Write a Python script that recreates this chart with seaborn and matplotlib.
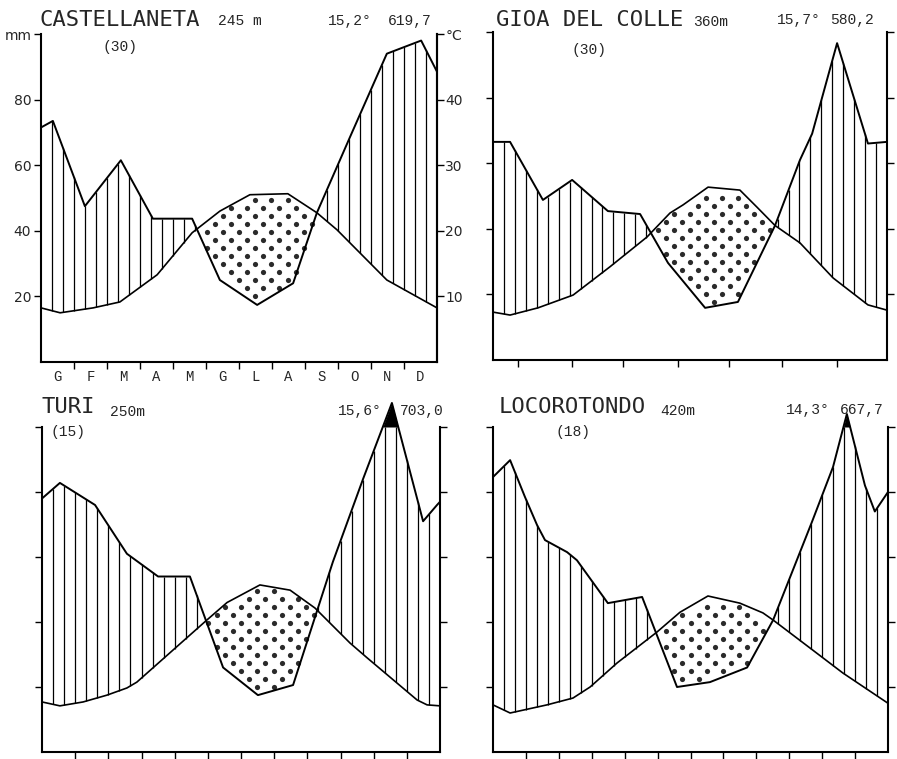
import numpy as np
import matplotlib
matplotlib.use("Agg")
import matplotlib.pyplot as plt
import seaborn as sns

# ---------------- data ----------------
stations = ["CASTELLANETA", "GIOA DEL COLLE", "TURI", "LOCOROTONDO"]
altitudes = ["245 m", "360m", "250m", "420m"]
years = ["(30)", "(30)", "(15)", "(18)"]
mean_temps = ["15,2°", "15,7°", "15,6°", "14,3°"]
annual_precip = ["619,7", "580,2", "703,0", "667,7"]
month_labels = ["G", "F", "M", "A", "M", "G", "L", "A", "S", "O", "N", "D"]
mm_ticks = [20, 40, 60, 80, 100]
mm_ticklabels = ["20", "40", "60", "80", "mm"]
c_ticks = [10, 20, 30, 40, 50]
c_ticklabels = ["10", "20", "30", "40", "°C"]

# Castellaneta
cas_p_month = [0.0, 0.36, 1.33, 2.42, 3.39, 4.58, 5.42, 6.55, 7.64, 8.36, 9.36, 10.48, 11.52, 12.0]
cas_p_mm = [71.5, 73.5, 47.5, 61.5, 43.7, 43.7, 25.0, 17.4, 24.0, 45.5, 68.5, 94.0, 98.0, 88.5]
cas_t_month = [0.0, 0.58, 1.58, 2.39, 3.52, 4.58, 5.42, 6.33, 7.48, 8.36, 8.97, 10.48, 12.0]
cas_t_c = [8.25, 7.5, 8.25, 9.15, 13.3, 19.7, 23.0, 25.5, 25.65, 22.75, 20.15, 12.5, 8.25]

# Gioia del Colle
gio_p_month = [0.0, 0.52, 1.52, 2.41, 3.5, 4.48, 5.33, 6.46, 7.46, 8.59, 9.35, 9.72, 10.48, 11.42, 12.0]
gio_p_mm = [66.5, 66.5, 48.8, 54.9, 45.4, 44.5, 29.6, 15.9, 17.7, 41.0, 61.0, 69.0, 96.6, 66.0, 66.5]
gio_t_month = [0.0, 0.52, 1.37, 2.44, 3.56, 4.69, 5.39, 5.79, 6.55, 7.52, 8.04, 8.59, 9.35, 10.36, 11.42, 12.0]
gio_t_c = [7.3, 6.85, 7.95, 9.9, 14.2, 18.75, 22.4, 23.65, 26.35, 25.9, 23.3, 20.5, 17.85, 12.5, 8.4, 7.6]
gio_xticks = [0.76, 2.41, 3.96, 5.63, 7.19, 8.8, 10.48]

# Turi
turi_p_month = [0.0, 0.54, 1.6, 2.56, 3.5, 4.46, 5.46, 6.51, 7.57, 8.77, 9.68, 10.55, 11.49, 11.91, 12.0]
turi_p_mm = [78.0, 82.8, 76.0, 61.0, 54.0, 54.0, 26.0, 17.5, 20.6, 58.5, 84.0, 107.4, 71.0, 76.0, 77.0]
turi_t_month = [0.0, 0.54, 1.24, 1.96, 2.56, 2.86, 4.97, 5.58, 6.57, 7.48, 8.23, 9.29, 9.8, 11.31, 11.61, 12.0]
turi_t_c = [7.7, 7.1, 7.7, 8.75, 9.85, 10.75, 20.3, 23.0, 25.7, 24.9, 22.15, 16.75, 14.5, 8.0, 7.25, 7.1]

# Locorotondo
loc_p_month = [0.0, 0.52, 0.97, 1.34, 1.58, 2.25, 2.55, 3.49, 4.53, 5.59, 6.59, 7.72, 8.51, 9.69, 10.33, 10.75, 11.3, 11.6, 12.0]
loc_p_mm = [84.6, 89.8, 78.5, 69.8, 65.2, 61.5, 59.0, 45.8, 47.7, 20.0, 21.5, 26.0, 40.6, 70.8, 87.7, 104.0, 82.0, 74.0, 80.0]
loc_t_month = [0.0, 0.52, 1.64, 2.43, 2.95, 3.77, 4.98, 5.68, 6.53, 7.5, 8.2, 8.51, 9.63, 10.63, 12.0]
loc_t_c = [7.25, 6.0, 7.25, 8.3, 10.0, 13.7, 18.45, 21.5, 24.0, 22.9, 21.4, 20.3, 16.0, 12.15, 7.5]

panels = [
    (cas_p_month, cas_p_mm, cas_t_month, cas_t_c),
    (gio_p_month, gio_p_mm, gio_t_month, gio_t_c),
    (turi_p_month, turi_p_mm, turi_t_month, turi_t_c),
    (loc_p_month, loc_p_mm, loc_t_month, loc_t_c),
]

# ---------------- style / layout ----------------
sns.set_style("white")
plt.rcParams["font.family"] = ["DejaVu Sans"]
W, H = 897, 759
fig = plt.figure(figsize=(W / 100, H / 100), dpi=100)
fig.patch.set_facecolor("white")


def rect(l, t, r, b):
    return [l / W, 1 - b / H, (r - l) / W, (b - t) / H]


ax_rects = [rect(41, 34, 437, 362), rect(493, 32, 887, 360),
            rect(42, 427, 440, 752), rect(493, 427, 888, 752)]

# text positions (pixels): title, altitude, (years), temp, precip
text_pos = [
    [(39, 20), (218, 21), (102, 47), (328, 21), (388, 21)],
    [(496, 20), (693, 22), (572, 50), (777, 20), (830, 20)],
    [(41, 407), (110, 412), (50, 432), (338, 411), (400, 411)],
    [(499, 407), (660, 411), (555, 432), (786, 410), (840, 410)],
]
mono = "Liberation Mono"
title_font = "DejaVu Sans Mono"

for i, (pm, pv, tm, tc) in enumerate(panels):
    ax = fig.add_axes(ax_rects[i])
    ax.set_facecolor("white")
    pm = np.asarray(pm); pv = np.asarray(pv)
    tm = np.asarray(tm); t2 = 2 * np.asarray(tc)  # 10 degC = 20 mm

    ax.set_xlim(0, 12)
    ax.set_ylim(0, 100)

    # humid period: vertical hatching
    xs = np.arange(1, 36) / 3.0
    p_at = np.interp(xs, pm, pv)
    t_at = np.interp(xs, tm, t2)
    m = p_at > t_at
    ax.vlines(xs[m], t_at[m], np.minimum(p_at[m], 100), color="black", lw=0.9, zorder=2)

    # arid period: dotted lattice
    gy = np.arange(0.5, 100, 2.45)
    px_list, py_list = [], []
    for k, yy in enumerate(gy):
        gx = np.arange(0.12 + 0.245 * (k % 2), 12, 0.49)
        pp = np.interp(gx, pm, pv)
        tt = np.interp(gx, tm, t2)
        sel = (yy > pp + 0.7) & (yy < tt - 0.7)
        px_list.append(gx[sel]); py_list.append(np.full(sel.sum(), yy))
    dx = np.concatenate(px_list); dy = np.concatenate(py_list)
    sns.scatterplot(x=dx, y=dy, ax=ax, s=14, color="#2a2a2a", linewidth=0, zorder=3)

    # above 100 mm: black fill
    xf = np.linspace(0, 12, 2401)
    pf = np.interp(xf, pm, pv)
    if pf.max() > 100:
        ax.fill_between(xf, 100, pf, where=pf > 100, color="black", lw=0, clip_on=False, zorder=4)

    # curves
    sns.lineplot(x=pm, y=pv, ax=ax, color="black", lw=1.4, estimator=None, sort=False, zorder=5)
    sns.lineplot(x=tm, y=t2, ax=ax, color="black", lw=1.2, estimator=None, sort=False, zorder=5)
    for ln in ax.lines:
        ln.set_clip_on(False)

    # spines
    for s in ["left", "right", "bottom"]:
        ax.spines[s].set_visible(True)
        ax.spines[s].set_linewidth(1.5)
        ax.spines[s].set_color("black")
    ax.spines["top"].set_visible(False)

    # ticks
    ax.set_yticks(mm_ticks)
    if i == 1:
        ax.set_xticks(gio_xticks)
    else:
        ax.set_xticks(range(1, 12))
    ax.tick_params(axis="x", which="major", bottom=True, direction="out", length=5, width=1,
                   labelbottom=False, color="black")
    ax.tick_params(axis="y", which="major", left=True, right=(i != 0), direction="out",
                   length=5, width=1, labelleft=(i == 0), labelright=False, color="black",
                   labelsize=10, pad=2)
    if i == 0:
        ax.set_yticklabels(mm_ticklabels)
        sec = ax.secondary_yaxis("right", functions=(lambda y: y / 2, lambda t: 2 * t))
        sec.set_yticks(c_ticks)
        sec.set_yticklabels(c_ticklabels)
        sec.tick_params(direction="out", length=5, width=1, labelsize=10, pad=1, color="black")
        sec.spines["right"].set_linewidth(1.5)
        ax.set_xticks(np.arange(0.5, 12, 1), minor=True)
        ax.set_xticklabels(month_labels, minor=True, fontfamily=mono, fontsize=10)
        ax.tick_params(axis="x", which="minor", length=0, pad=6, labelbottom=True)
    ax.set_xlabel(""); ax.set_ylabel("")
    ax.grid(False)

    # texts
    tp = text_pos[i]
    fig.text(tp[0][0] / W, 1 - tp[0][1] / H, stations[i], fontsize=16, va="center", ha="left",
             family=title_font)
    fig.text(tp[1][0] / W, 1 - tp[1][1] / H, altitudes[i], fontsize=10.5, va="center", ha="left",
             family=mono)
    fig.text(tp[2][0] / W, 1 - tp[2][1] / H, years[i], fontsize=10.5, va="center", ha="left",
             family=mono)
    fig.text(tp[3][0] / W, 1 - tp[3][1] / H, mean_temps[i], fontsize=10.5, va="center", ha="left",
             family=mono)
    fig.text(tp[4][0] / W, 1 - tp[4][1] / H, annual_precip[i], fontsize=10.5, va="center", ha="left",
             family=mono)

fig.savefig("out.png", dpi=100, facecolor="white")
